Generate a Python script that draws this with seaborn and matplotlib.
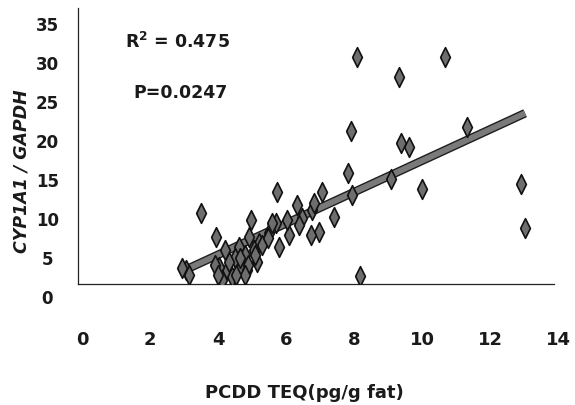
import matplotlib
matplotlib.use("Agg")
import matplotlib.pyplot as plt
import matplotlib.patheffects as pe
from matplotlib import transforms
import numpy as np
import pandas as pd
import seaborn as sns

# PCDD TEQ (pg/g fat) versus CYP1A1 / GAPDH expression ratio
pcdd_teq = [8.21, 10.79, 9.44, 8.03, 11.44, 9.50, 9.74, 7.94, 9.21, 10.12,
            13.03, 13.15, 8.29, 8.06, 7.18, 7.09, 6.85, 7.53, 6.88, 5.85,
            6.44, 5.82, 6.21, 5.91, 6.59, 6.94, 3.62, 4.06, 3.18, 5.09,
            5.04, 4.38, 4.15, 4.74, 4.79, 5.32, 5.62, 5.71, 4.24, 4.53,
            3.06, 3.26, 4.62, 4.90, 5.18, 4.44, 4.97, 4.32, 5.26, 6.15, 6.50,
            4.76, 5.00, 4.91, 5.21, 5.41, 5.59, 4.03, 4.12, 4.65]
cyp1a1_ratio = [29.1, 29.1, 26.5, 19.6, 20.1, 18.1, 17.6, 14.2, 13.5, 12.2,
                12.8, 7.2, 1.0, 11.4, 11.8, 6.7, 6.3, 8.6, 9.5, 11.8,
                10.1, 7.8, 6.3, 4.7, 8.5, 10.4, 9.1, 6.0, 1.8, 8.2,
                6.0, 1.8, 2.2, 4.7, 2.2, 5.3, 6.5, 7.8, 0.5, 0.9,
                2.1, 1.2, 3.3, 3.7, 4.4, 2.8, 1.8, 4.4, 2.8, 8.2, 7.6,
                3.3, 2.4, 1.2, 3.7, 5.0, 5.9, 2.4, 1.2, 1.2]

# fitted regression line end points
fit_x = [3.2, 13.15]
fit_y = [1.9, 21.9]

x_ticks = [0, 2, 4, 6, 8, 10, 12, 14]
y_ticks = [0, 5, 10, 15, 20, 25, 30, 35]
r2_label = "R$^2$ = 0.475"
p_label = "P=0.0247"

sns.set_theme(style="white")
plt.rcParams["font.family"] = ["DejaVu Sans"]
plt.rcParams["mathtext.fontset"] = "custom"
plt.rcParams["mathtext.rm"] = "DejaVu Sans:bold"
plt.rcParams["mathtext.default"] = "rm"

df = pd.DataFrame({"teq": pcdd_teq, "ratio": cyp1a1_ratio})
fit = pd.DataFrame({"teq": fit_x, "ratio": fit_y})

fig = plt.figure(figsize=(5.75, 4.05), dpi=100)
ax = fig.add_axes([0.1357, 0.2988, 0.8278, 0.6815])

sns.lineplot(data=fit, x="teq", y="ratio", ax=ax, color="#7a7a7a", linewidth=4.2,
             solid_capstyle="butt", zorder=2,
             path_effects=[pe.Stroke(linewidth=6.2, foreground="#1e1e1e"), pe.Normal()])

diamond = [(-0.5, 0.0), (0.0, 1.0), (0.5, 0.0), (0.0, -1.0), (-0.5, 0.0)]
sns.scatterplot(data=df, x="teq", y="ratio", ax=ax, marker=diamond, s=200,
                color="#6e6e6e", edgecolor="#111111", linewidth=1.2, zorder=3)

ax.set_xlim(0, 14)
ax.set_ylim(0, 35.4)
ax.set_xticks(x_ticks)
ax.set_yticks(y_ticks)
ax.set_xticklabels([str(v) for v in x_ticks])
ax.set_yticklabels([str(v) for v in y_ticks])

for side in ("top", "right"):
    ax.spines[side].set_visible(False)
for side in ("left", "bottom"):
    ax.spines[side].set_color("#222222")
    ax.spines[side].set_linewidth(0.9)

ax.tick_params(axis="both", direction="in", length=4, width=0.8, color="#222222",
               labelcolor="#1a1a1a")
ax.tick_params(axis="x", pad=34, labelsize=13)
ax.tick_params(axis="y", pad=22, labelsize=12)
for lab in ax.get_yticklabels():
    lab.set_fontweight("bold")
    lab.set_horizontalalignment("center")
    lab.set_transform(lab.get_transform() +
                      transforms.ScaledTranslation(0, -13 / 100, fig.dpi_scale_trans))
for lab in ax.get_xticklabels():
    lab.set_fontweight("bold")
    lab.set_transform(lab.get_transform() +
                      transforms.ScaledTranslation(4 / 100, 0, fig.dpi_scale_trans))

ax.set_xlabel("")
ax.set_ylabel("")
fig.text(304 / 575, 1 - 393 / 405, "PCDD TEQ(pg/g fat)", ha="center", va="center",
         fontsize=13, fontweight="bold", color="#1a1a1a")
fig.text(22 / 575, 1 - 171 / 405, "CYP1A1 / GAPDH", ha="center", va="center",
         rotation=90, fontsize=12.5, fontweight="bold", fontstyle="italic", color="#1a1a1a")

fig.text(125 / 575, 1 - 42 / 405, r2_label, ha="left", va="center",
         fontsize=12.5, fontweight="bold", color="#1a1a1a")
fig.text(133 / 575, 1 - 93 / 405, p_label, ha="left", va="center",
         fontsize=12.5, fontweight="bold", color="#1a1a1a")

fig.savefig("out.png", dpi=100)
